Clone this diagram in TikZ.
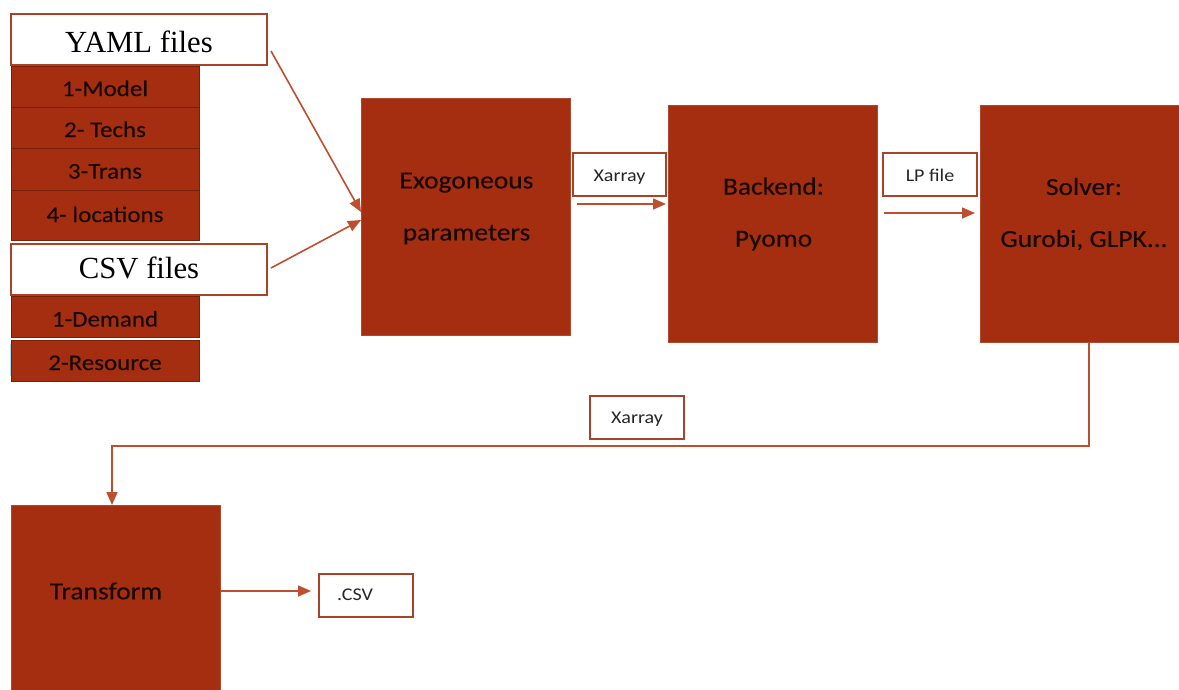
\documentclass[tikz,border=0pt]{standalone}
\usepackage{fontspec}
\setmainfont{Carlito}[FakeStretch=1.12, FakeBold=0.35]
\newfontfamily\tagfont{Carlito}[FakeStretch=1.12]
\newfontfamily\titlefont{Liberation Serif}
\usetikzlibrary{arrows.meta}

\definecolor{rust}{RGB}{165,46,16}
\definecolor{rustedge}{RGB}{176,72,46}
\definecolor{rustline}{RGB}{120,32,10}
\definecolor{wireclr}{RGB}{190,78,48}
\definecolor{labeledge}{RGB}{170,66,40}
\definecolor{txtdark}{RGB}{24,8,4}

\tikzset{
  block/.style={draw=rustedge, line width=0.8pt, fill=rust, inner sep=0pt, outer sep=0pt, anchor=north west},
  rowbox/.style={draw=rustline, line width=1pt, fill=rust, inner sep=0pt, outer sep=0pt, anchor=north west,
                 minimum width=188pt, text=txtdark, text height=19pt, text depth=0pt,
                 font=\fontsize{22.3pt}{26pt}\selectfont},
  headbox/.style={draw=labeledge, line width=1.2pt, fill=white, inner sep=0pt, outer sep=0pt, anchor=north west,
                  minimum width=256pt, minimum height=51pt, text=black, text depth=0pt,
                  font=\titlefont\fontsize{30.7pt}{34pt}\selectfont},
  tagbox/.style={draw=labeledge, line width=1.3pt, fill=white, inner sep=0pt, outer sep=0pt, anchor=north west,
                 minimum height=43pt, text=black!85, text height=13pt, text depth=0pt,
                 font=\tagfont\fontsize{17.9pt}{21pt}\selectfont},
  bigtxt/.style={text=txtdark, align=center, inner sep=0pt, font=\fontsize{24.5pt}{52pt}\selectfont},
  arr/.style={draw=wireclr, line width=1.6pt, -{Triangle[length=13pt,width=11pt]}},
}

\begin{document}
\begin{tikzpicture}[x=1pt, y=-1pt]
  \useasboundingbox (0,0) rectangle (1179,689);
  \fill[white] (0,0) rectangle (1179,689);

  % input files: YAML group
  \node[headbox, text height=25pt] (yaml) at (11,14) {YAML files};
  \node[rowbox, minimum height=41pt] (model) at (11,66) {1-Model};
  \node[rowbox, minimum height=41pt] (techs) at (11,107) {2- Techs};
  \node[rowbox, minimum height=42pt] (trans) at (11,148) {3-Trans};
  \node[rowbox, minimum height=50pt, text height=14pt] (locs) at (11,190) {4- locations};

  % input files: CSV group
  \node[headbox, text height=17pt] (csvf) at (11,244) {CSV files};
  \node[rowbox, minimum height=41pt, text height=20pt] (demand) at (11,296) {1-Demand};
  \node[rowbox, minimum height=41pt] (resource) at (11,340) {2-Resource};
  \draw[cyan!35, line width=1.2pt] (10.6,344) -- (10.6,376);

  % processing chain
  \node[block, minimum width=209pt, minimum height=237pt] (exo) at (361,98) {};
  \node[bigtxt] (exot) at (466.5,208.5) {Exogoneous\\parameters};

  \node[block, minimum width=209pt, minimum height=237pt] (backend) at (668,105) {};
  \node[bigtxt] (backt) at (773.5,214) {Backend:\\Pyomo};

  \node[block, minimum width=209pt, minimum height=237pt] (solver) at (980,105) {};
  \node[bigtxt] (solvt) at (1084,214) {Solver:\\Gurobi, GLPK...};

  \node[block, minimum width=209pt, minimum height=237pt] (transform) at (11,505) {};
  \node[bigtxt] (trant) at (106,591) {Transform};

  % data format tags
  \node[tagbox, minimum width=93pt] (xa1) at (573,153) {Xarray};
  \node[tagbox, minimum width=94pt] (lp) at (883,153) {LP file};
  \node[tagbox, minimum width=94pt, text height=11pt] (xa2) at (590,396) {Xarray};
  \node[tagbox, minimum width=94pt] (csvout) at (319,574) {};
  \node[anchor=west, inner sep=0pt, text=black!85, font=\tagfont\fontsize{17.9pt}{21pt}\selectfont] (csvt) at (337,595) {.CSV};

  % connectors
  \draw[arr] ([shift={(4,11.5)}]yaml.east) -- ([shift={(0,-4.5)}]exo.west);
  \draw[arr] ([shift={(4,-1.5)}]csvf.east) -- ([shift={(0,3.5)}]exo.west);

  \coordinate (a1) at ([shift={(0,-19.5)}]backend.west);
  \draw[arr, shorten <=7pt, shorten >=2pt] (exo.east |- a1) -- (a1);

  \coordinate (a2) at ([shift={(0,-10.5)}]solver.west);
  \draw[arr, shorten <=7pt, shorten >=5pt] (backend.east |- a2) -- (a2);

  \coordinate (bend) at (112,446);
  \draw[arr] ([xshift=4.5pt]solver.south) |- (bend) -- ([xshift=-3.5pt]transform.north);

  \coordinate (a3) at ([shift={(0,-4.5)}]csvout.west);
  \draw[arr, shorten <=1pt, shorten >=8pt] (transform.east |- a3) -- (a3);
\end{tikzpicture}
\end{document}
